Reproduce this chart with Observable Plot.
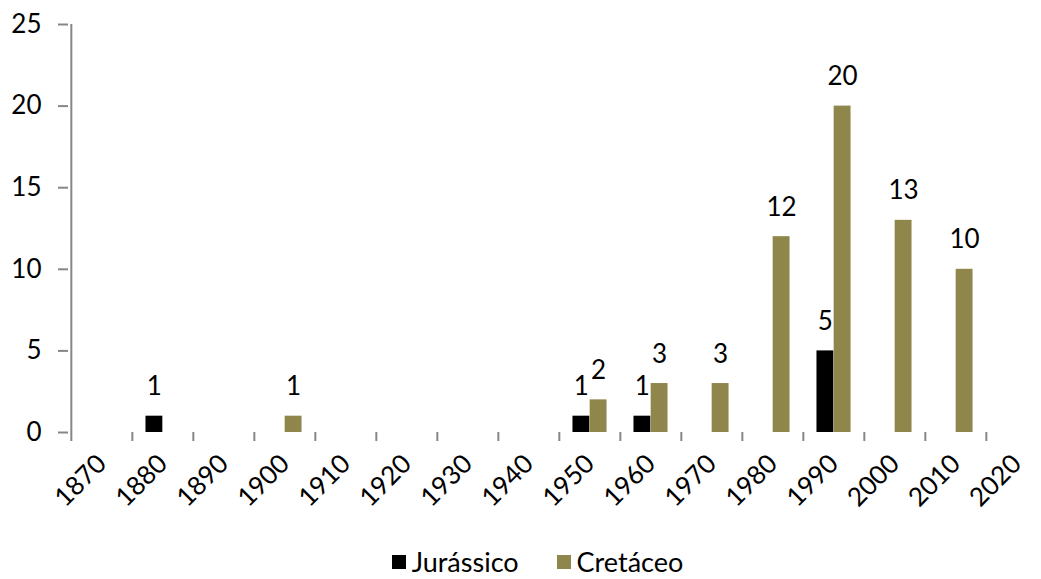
<!DOCTYPE html>
<html>
<head>
<meta charset="utf-8">
<script src="https://cdn.jsdelivr.net/npm/d3@7"></script>
<script src="https://cdn.jsdelivr.net/npm/@observablehq/plot@0.6"></script>
<style>
  html, body { margin: 0; padding: 0; background: #fff; }
  #chart { width: 1041px; }
  .legend { display: flex; justify-content: center; align-items: center; font-family: Lato, sans-serif; font-size: 27px; color: #000; height: 31px; padding-top: 6px; padding-left: 34px; box-sizing: content-box; }
  .legend .item { display: flex; align-items: center; margin: 0 19px; }
  .legend .sw { width: 14px; height: 14px; display: inline-block; margin-right: 6px; }
</style>
</head>
<body>
<div id="chart"></div>
<script>
const decades = ["1870","1880","1890","1900","1910","1920","1930","1940","1950","1960","1970","1980","1990","2000","2010","2020"];
const jurassico = [0,1,0,0,0,0,0,0,1,1,0,0,5,0,0,0];
const cretaceo  = [0,0,0,1,0,0,0,0,2,3,3,12,20,13,10,0];
const yTicks = [0,5,10,15,20,25];
const seriesNames = ["Jurássico","Cretáceo"];
const colors = ["#000000","#8f864c"];

const W = 1041, H = 540;
const xRange = [68, 1049.3];
const step = (xRange[1] - xRange[0]) / decades.length;
const barW = 17.2;
const half = step / 2;

const jData = decades.map((d, i) => ({decade: d, value: jurassico[i]})).filter(d => d.value > 0);
const cData = decades.map((d, i) => ({decade: d, value: cretaceo[i]})).filter(d => d.value > 0);

const axisColor = "#868686";
const font = "Lato, sans-serif";

const chart = Plot.plot({
  width: W,
  height: H,
  marginTop: 24,
  marginBottom: H - 432,
  marginLeft: 68,
  marginRight: 0,
  style: {fontFamily: font, fontSize: "26px", color: "#000", background: "#fff"},
  x: {type: "band", domain: decades, range: xRange, padding: 0, axis: null},
  y: {domain: [0, 25], range: [432, 24], axis: null},
  marks: [
    Plot.barY(jData, {x: "decade", y: "value", fill: colors[0], insetLeft: half - barW, insetRight: half}),
    Plot.barY(cData, {x: "decade", y: "value", fill: colors[1], insetLeft: half, insetRight: half - barW}),
    Plot.text(jData, {x: "decade", y: "value", text: d => String(d.value), dx: -barW / 2, dy: -21, lineAnchor: "bottom", fontSize: 26, fill: "#000"}),
    Plot.text(cData, {x: "decade", y: "value", text: d => String(d.value), dx: barW / 2, dy: -21, lineAnchor: "bottom", fontSize: 26, fill: "#000"}),
    // x axis line (ends at the left edge of the last category)
    Plot.ruleY([0], {x1: decades[0], x2: decades[decades.length - 1], stroke: axisColor, strokeWidth: 2}),
    // x tick marks at category boundaries
    Plot.ruleX(decades, {x: d => d, y1: 0, y2: 0, insetBottom: -9, dx: -half, stroke: axisColor, strokeWidth: 2}),
    // y axis line
    Plot.ruleX([decades[0]], {x: d => d, y1: 0, y2: 25, dx: -half, stroke: axisColor, strokeWidth: 2}),
    Plot.axisY({ticks: yTicks, tickSize: 10, tickPadding: 17, stroke: axisColor, strokeWidth: 2, fill: "#000", fontSize: 26, label: null}),
    Plot.axisX({tickSize: 0, tickRotate: -45, tickPadding: 27, fill: "#000", fontSize: 26, label: null})
  ]
});
document.getElementById("chart").appendChild(chart);

const legend = document.createElement("div");
legend.className = "legend";
seriesNames.forEach((name, i) => {
  const item = document.createElement("span");
  item.className = "item";
  const sw = document.createElement("span");
  sw.className = "sw";
  sw.style.background = colors[i];
  item.appendChild(sw);
  item.appendChild(document.createTextNode(name));
  legend.appendChild(item);
});
document.getElementById("chart").appendChild(legend);
</script>
</body>
</html>
